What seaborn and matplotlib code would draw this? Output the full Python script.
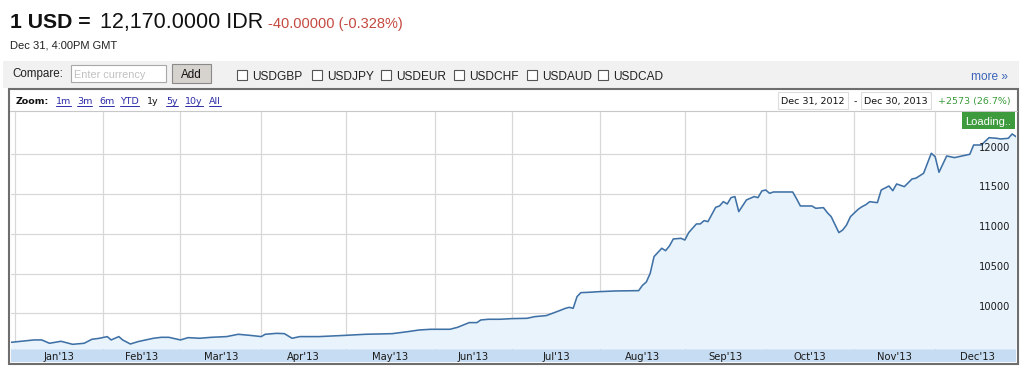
import numpy as np
import pandas as pd
import matplotlib
matplotlib.use("Agg")
import matplotlib.pyplot as plt
import seaborn as sns
from matplotlib.patches import Rectangle
from matplotlib.lines import Line2D

# ---------------- data ----------------
dates = [
    "2012-12-31", "2013-01-08", "2013-01-10", "2013-01-14", "2013-01-17", "2013-01-22",
    "2013-01-25", "2013-01-29", "2013-01-31", "2013-02-04", "2013-02-05", "2013-02-07",
    "2013-02-08", "2013-02-12", "2013-02-14", "2013-02-20", "2013-02-22", "2013-02-26",
    "2013-03-01", "2013-03-05", "2013-03-08", "2013-03-13", "2013-03-19", "2013-03-22",
    "2013-03-27", "2013-04-01", "2013-04-02", "2013-04-05", "2013-04-09", "2013-04-11",
    "2013-04-15", "2013-04-22", "2013-05-01", "2013-05-08", "2013-05-17", "2013-05-23",
    "2013-05-28", "2013-05-31", "2013-06-07", "2013-06-11", "2013-06-14", "2013-06-18",
    "2013-06-19", "2013-06-21", "2013-06-26", "2013-07-01", "2013-07-05", "2013-07-09",
    "2013-07-12", "2013-07-17", "2013-07-19", "2013-07-22", "2013-07-23", "2013-07-24",
    "2013-07-25", "2013-07-29", "2013-08-01", "2013-08-07", "2013-08-15", "2013-08-16",
    "2013-08-19", "2013-08-20", "2013-08-21", "2013-08-23", "2013-08-26", "2013-08-27",
    "2013-08-28", "2013-08-30", "2013-09-02", "2013-09-03", "2013-09-05", "2013-09-06",
    "2013-09-09", "2013-09-10", "2013-09-12", "2013-09-13", "2013-09-16", "2013-09-17",
    "2013-09-18", "2013-09-19", "2013-09-20", "2013-09-24", "2013-09-26", "2013-09-27",
    "2013-09-30", "2013-10-01", "2013-10-02", "2013-10-03", "2013-10-10", "2013-10-11",
    "2013-10-14", "2013-10-17", "2013-10-18", "2013-10-22", "2013-10-23", "2013-10-24",
    "2013-10-28", "2013-10-29", "2013-10-30", "2013-10-31", "2013-11-04", "2013-11-05",
    "2013-11-06", "2013-11-07", "2013-11-11", "2013-11-12", "2013-11-14", "2013-11-15",
    "2013-11-18", "2013-11-20", "2013-11-22", "2013-11-25", "2013-11-27", "2013-11-29",
    "2013-12-02", "2013-12-03", "2013-12-05", "2013-12-09", "2013-12-13", "2013-12-16",
    "2013-12-18", "2013-12-20", "2013-12-24", "2013-12-25", "2013-12-27", "2013-12-30",
    "2013-12-31",
]
rates = [
    9635, 9665, 9665, 9623, 9648, 9610,
    9623, 9673, 9686, 9707, 9665, 9707,
    9665, 9614, 9644, 9686, 9698, 9698,
    9665, 9694, 9686, 9698, 9707, 9736,
    9723, 9707, 9736, 9748, 9744, 9686,
    9707, 9707, 9723, 9736, 9744, 9769,
    9790, 9799, 9799, 9824, 9883, 9883,
    9916, 9925, 9925, 9933, 9937, 9958,
    9971, 10025, 10063, 10075, 10063, 10210,
    10260, 10264, 10273, 10281, 10285, 10352,
    10394, 10503, 10713, 10818, 10788, 10847,
    10935, 10943, 10922, 11015, 11124, 11124,
    11166, 11153, 11333, 11350, 11405, 11375,
    11455, 11468, 11279, 11426, 11468, 11455,
    11539, 11551, 11509, 11526, 11526, 11442,
    11350, 11350, 11321, 11329, 11266, 11216,
    11015, 11048, 11111, 11215, 11308, 11341,
    11366, 11404, 11392, 11551, 11601, 11542,
    11627, 11593, 11690, 11699, 11761, 12013,
    11970, 11774, 11979, 11958, 12000, 12117,
    12117, 12209, 12201, 12193, 12201, 12256,
    12222,
]
month_starts = ["2013-01-01", "2013-02-01", "2013-03-01", "2013-04-01", "2013-05-01",
                "2013-06-01", "2013-07-01", "2013-08-01", "2013-09-01", "2013-10-01",
                "2013-11-01", "2013-12-01", "2014-01-01"]
month_labels = ["Jan'13", "Feb'13", "Mar'13", "Apr'13", "May'13", "Jun'13",
                "Jul'13", "Aug'13", "Sep'13", "Oct'13", "Nov'13", "Dec'13"]
y_ticks = [10000, 10500, 11000, 11500, 12000]
compare_symbols = ["USDGBP", "USDJPY", "USDEUR", "USDCHF", "USDAUD", "USDCAD"]
zoom_links = ["1m", "3m", "6m", "YTD", "1y", "5y", "10y", "All"]

start_date = "2012-12-31"
end_date = "2013-12-31"

# trading-day axis (weekdays only)
t = np.busday_count(start_date, dates)
df = pd.DataFrame({"t": t, "rate": rates})
month_t = np.busday_count(start_date, month_starts)
mid_t = (month_t[:-1] + month_t[1:]) / 2.0
t_end = np.busday_count(start_date, end_date)

# ---------------- figure ----------------
sns.set_theme(style="white")
plt.rcParams["font.family"] = ["DejaVu Sans"]

W, H = 1024, 368
fig = plt.figure(figsize=(W / 100, H / 100), dpi=100)
fig.patch.set_facecolor("white")


def fx(x):
    return x / W


def fy(y):
    return 1 - y / H


def rect(x0, y0, x1, y1, **kw):
    r = Rectangle((fx(x0), fy(y1)), fx(x1) - fx(x0), fy(y0) - fy(y1),
                  transform=fig.transFigure, **kw)
    fig.add_artist(r)
    return r


ARIAL = ["Liberation Sans", "DejaVu Sans"]

# header
fig.text(fx(10), fy(28), "1 USD =", fontsize=15.3, fontweight="bold", family=ARIAL,
         color="#111111", va="baseline")
fig.text(fx(100), fy(28), "12,170.0000 IDR", fontsize=15.5, family=ARIAL,
         color="#111111", va="baseline")
fig.text(fx(268), fy(28), "-40.00000 (-0.328%)", fontsize=10.5, family=ARIAL,
         color="#c4493f", va="baseline")
fig.text(fx(10), fy(49), "Dec 31, 4:00PM GMT", fontsize=8, family=ARIAL,
         color="#222222", va="baseline")

# compare bar
rect(3, 61, 1019, 88, facecolor="#f1f1f1", edgecolor="none", zorder=0)
fig.text(fx(12), fy(77.5), "Compare:", fontsize=8.4, family=ARIAL, color="#222222",
         va="baseline")
rect(71, 65, 166, 82, facecolor="white", edgecolor="#a8a8a8", lw=0.8, zorder=0.6)
fig.text(fx(74), fy(77.5), "Enter currency", fontsize=7.8, family=ARIAL,
         color="#c0c0c0", va="baseline")
rect(172, 64, 211, 83, facecolor="#d6d3ce", edgecolor="#8a8a8a", lw=0.8, zorder=0.6)
fig.text(fx(191.5), fy(77.5), "Add", fontsize=8.4, family=ARIAL, color="#111111",
         va="baseline", ha="center")
cb_x = [237, 312, 381, 454, 527, 598]
for cx, sym in zip(cb_x, compare_symbols):
    rect(cx, 70, cx + 10, 80, facecolor="white", edgecolor="#555555", lw=0.8, zorder=0.6)
    fig.text(fx(cx + 15), fy(79.5), sym, fontsize=8.6, family=ARIAL,
             color="#222222", va="baseline")
fig.text(fx(971), fy(79.5), "more \u00bb", fontsize=8.6, family=ARIAL,
         color="#3a63b8", va="baseline")

# chart box
rect(9, 88.5, 1018, 364, facecolor="white", edgecolor="#6e6e6e", lw=1.5, zorder=0.5)
fig.add_artist(Line2D([fx(10), fx(1017)], [fy(111), fy(111)], transform=fig.transFigure,
                      color="#c8c8c8", lw=0.8, zorder=0.7))

# zoom row
fig.text(fx(16), fy(104), "Zoom:", fontsize=6.8, fontweight="bold", color="#111111",
         va="baseline")
zoom_x = [56, 77, 99, 120, 147, 166, 185, 209]
link_texts = []
for zx, lab in zip(zoom_x, zoom_links):
    col = "#111111" if lab == "1y" else "#2b2ba8"
    tx = fig.text(fx(zx), fy(104), lab, fontsize=6.8, color=col, va="baseline")
    if lab != "1y":
        link_texts.append(tx)

rect(778, 92, 848, 109, facecolor="white", edgecolor="#dddddd", lw=0.8, zorder=0.6)
fig.text(fx(813), fy(104), "Dec 31, 2012", fontsize=6.8, color="#111111",
         va="baseline", ha="center")
fig.text(fx(855), fy(104), "-", fontsize=6.8, color="#111111", va="baseline",
         ha="center")
rect(861, 92, 931, 109, facecolor="white", edgecolor="#dddddd", lw=0.8, zorder=0.6)
fig.text(fx(896), fy(104), "Dec 30, 2013", fontsize=6.8, color="#111111",
         va="baseline", ha="center")
fig.text(fx(1011), fy(104), "+2573 (26.7%)", fontsize=6.8, color="#3b9a3b",
         va="baseline", ha="right")

# x band
rect(11, 349, 1016, 362, facecolor="#c6dcf2", edgecolor="none", zorder=1)

# main axes
ax = fig.add_axes([fx(11), fy(349), fx(1016) - fx(11), fy(112) - fy(349)])
ax.set_zorder(2)
ax.set_facecolor("none")
y_lo, y_hi = 9551, 12532
ax.set_xlim(0, t_end)
ax.set_ylim(y_lo, y_hi)

ax.fill_between(df["t"], df["rate"], y_lo, color="#e8f3fc", lw=0, zorder=1)
sns.lineplot(data=df, x="t", y="rate", ax=ax, color="#3f71a6", lw=1.15,
             errorbar=None, zorder=3)

ax.set_xticks(month_t[:-1])
ax.set_xticklabels([])
ax.set_xticks(mid_t, minor=True)
ax.set_xticklabels(month_labels, minor=True)
ax.set_yticks(y_ticks)
ax.set_yticklabels([])
ax.set_axisbelow(True)
ax.grid(True, which="major", color="#d8d8d8", lw=0.9)
ax.tick_params(axis="x", which="major", direction="in", length=4, width=0.8,
               color="#9a9a9a", bottom=True)
ax.tick_params(axis="x", which="minor", length=0, pad=2.3, labelsize=7.2,
               labelcolor="#1a1a1a")
ax.tick_params(axis="y", length=0)
ax.set_xlabel("")
ax.set_ylabel("")
for s in ax.spines.values():
    s.set_visible(False)

ytr = ax.get_yaxis_transform()
for v in y_ticks:
    ax.text(0.9945, v + 20, f"{v}", transform=ytr, ha="right", va="bottom",
            fontsize=7.1, color="#1a1a1a", zorder=4)

# loading badge
rect(962, 112.5, 1015, 129, facecolor="#3d9a3d", edgecolor="none", zorder=5)
fig.text(fx(988.5), fy(125), "Loading..", fontsize=8, family=ARIAL, color="white",
         va="baseline", ha="center", zorder=6)

# underline zoom links
fig.canvas.draw()
r = fig.canvas.get_renderer()
for tx in link_texts:
    bb = tx.get_window_extent(renderer=r)
    fig.add_artist(Line2D([bb.x0 / W, bb.x1 / W], [fy(105.5), fy(105.5)],
                          transform=fig.transFigure, color="#2b2ba8", lw=0.7))

fig.savefig("out.png", dpi=100)
